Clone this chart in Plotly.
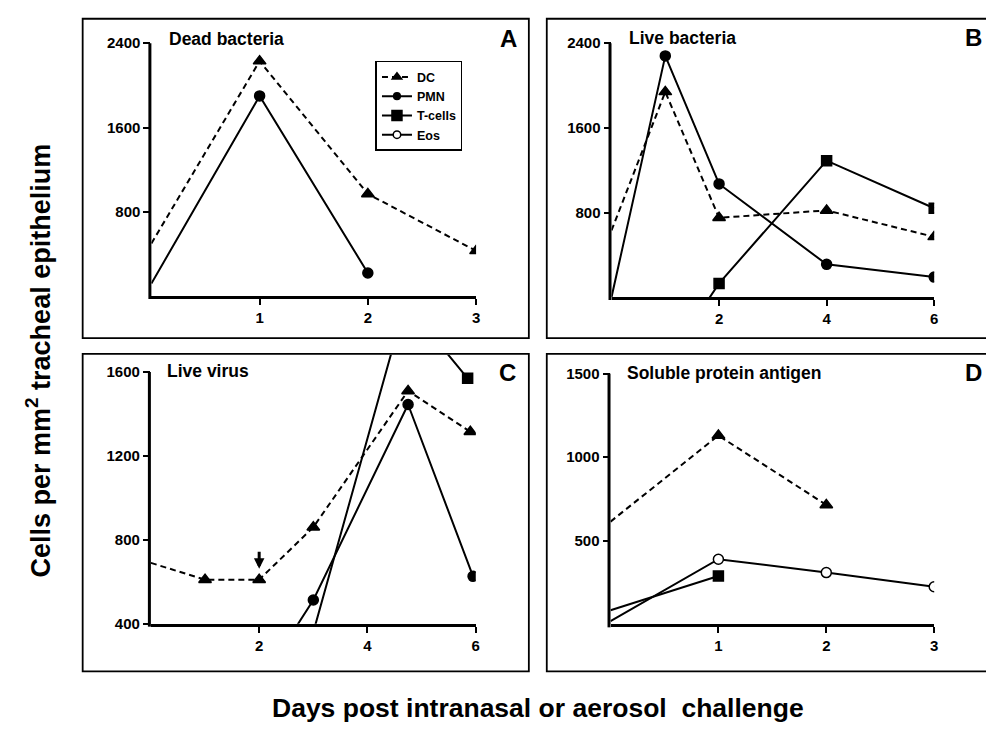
import plotly.graph_objects as go

# ---------------- data ----------------
A_days = [0, 1, 2, 3]
A_DC = [500, 2230, 970, 430]
A_PMN_days = [0, 1, 2]
A_PMN = [120, 1900, 220]

B_days = [0, 1, 2, 4, 6]
B_DC = [630, 1940, 750, 820, 570]
B_PMN = [0, 2280, 1070, 310, 190]
B_T_days = [1, 2, 4, 6]
B_T = [-630, 130, 1290, 840]

C_DC_days = [0, 1, 2, 3, 4.75, 5.9]
C_DC = [690, 610, 610, 860, 1510, 1315]
C_PMN_days = [2, 3, 4.75, 5.95]
C_PMN = [110, 513, 1445, 626]
C_T_days = [3, 4.7, 5.85]
C_T = [360, 1930, 1570]

D_DC_days = [0, 1, 2]
D_DC = [615, 1130, 715]
D_T_days = [0, 1]
D_T = [85, 290]
D_Eos_days = [0, 1, 2, 3]
D_Eos = [20, 390, 310, 225]

panel_titles = ["Dead bacteria", "Live bacteria", "Live virus", "Soluble protein antigen"]
panel_letters = ["A", "B", "C", "D"]
x_ticks = [[1, 2, 3], [2, 4, 6], [2, 4, 6], [1, 2, 3]]
y_ticks = [[800, 1600, 2400], [800, 1600, 2400], [400, 800, 1200, 1600], [500, 1000, 1500]]
x_ranges = [[0, 3], [0, 6], [0, 6], [0, 3]]
y_ranges = [[0, 2400], [0, 2400], [400, 1682], [0, 1500]]

# ---------------- layout geometry (pixels) ----------------
W, H = 986, 734
def px(x):
    return x / W
def py(y):
    return 1 - y / H

geo = [
    dict(x=(152, 478), y=(294, 35)),
    dict(x=(614, 938), y=(295, 35)),
    dict(x=(151.5, 477.7), y=(629.3, 354)),
    dict(x=(613, 938), y=(630, 373.3)),
]
boxes = [(83, 10, 531, 337), (549, 10, 1010, 337), (83, 353, 531, 678), (549, 353, 1010, 678)]
title_pos = [(168, 31), (630, 30), (166, 371), (628, 373)]
letter_pos = [(511, 30), (977, 29), (510, 372), (977, 372)]

FONT = "Liberation Sans, Arial, Helvetica, sans-serif"
fig = go.Figure()

def add(days, vals, name, ax, dashed=False, symbol="circle", fill="black", show=False, size=10):
    sizes = [0 if d == 0 else size for d in days]
    fig.add_trace(go.Scatter(
        x=days, y=vals, name=name, mode="lines+markers",
        xaxis="x" + ("" if ax == 1 else str(ax)), yaxis="y" + ("" if ax == 1 else str(ax)),
        line=dict(color="black", width=2, dash="6px,4px" if dashed else "solid"),
        marker=dict(symbol=symbol, size=sizes, color=fill, opacity=1,
                    line=dict(color="black", width=1.5)),
        showlegend=show, legendrank={"DC": 1, "PMN": 2, "T-cells": 3, "Eos": 4}[name],
        hoverinfo="skip",
    ))

TRI = "triangle-up"
SQ = "square"
add(A_days, A_DC, "DC", 1, dashed=True, symbol=TRI, show=True, size=11)
add(A_PMN_days, A_PMN, "PMN", 1, show=True)
add(B_days, B_DC, "DC", 2, dashed=True, symbol=TRI, size=11)
add(B_days, B_PMN, "PMN", 2)
add(B_T_days, B_T, "T-cells", 2, symbol=SQ, show=True)
add(C_DC_days, C_DC, "DC", 3, dashed=True, symbol=TRI, size=11)
add(C_PMN_days, C_PMN, "PMN", 3)
add(C_T_days, C_T, "T-cells", 3, symbol=SQ)
add(D_DC_days, D_DC, "DC", 4, dashed=True, symbol=TRI, size=11)
add(D_T_days, D_T, "T-cells", 4, symbol=SQ)
add(D_Eos_days, D_Eos, "Eos", 4, fill="white", show=True)

layout = dict(
    width=W, height=H, margin=dict(l=0, r=0, t=0, b=0),
    paper_bgcolor="white", plot_bgcolor="white",
    font=dict(family=FONT, color="black"),
    legend=dict(x=px(377), y=py(53), xanchor="left", yanchor="top",
                bordercolor="black", borderwidth=1.5, bgcolor="white",
                font=dict(size=12.5, family=FONT, weight="bold"),
                tracegroupgap=0, itemwidth=30),
)
shapes = []
annotations = []
for i in range(4):
    g = geo[i]
    sfx = "" if i == 0 else str(i + 1)
    layout["xaxis" + sfx] = dict(
        domain=[px(g["x"][0]), px(g["x"][1])], range=x_ranges[i],
        anchor="y" + sfx, showgrid=False, zeroline=False,
        showline=True, linewidth=3, linecolor="black",
        ticks="outside", ticklen=6, tickwidth=2, tickcolor="black",
        tickvals=x_ticks[i], ticktext=[str(v) for v in x_ticks[i]],
        tickfont=dict(size=15, family=FONT, weight="bold"),
    )
    layout["yaxis" + sfx] = dict(
        domain=[py(g["y"][0]), py(g["y"][1])], range=y_ranges[i],
        anchor="x" + sfx, showgrid=False, zeroline=False, showline=False,
        ticks="outside", ticklen=7, tickwidth=2, tickcolor="black",
        tickvals=y_ticks[i], ticktext=[str(v) for v in y_ticks[i]],
        tickfont=dict(size=15, family=FONT, weight="bold"),
    )
    y0p, y1p = py(g["y"][0]), py(g["y"][1])
    r0, r1 = y_ranges[i]
    top_val = y_ticks[i][-1]
    top_p = y0p + (top_val - r0) / (r1 - r0) * (y1p - y0p)
    xl = px(g["x"][0] - 1.5)
    shapes.append(dict(type="line", xref="paper", yref="paper", x0=xl, x1=xl,
                       y0=y0p - 3 / H, y1=top_p, line=dict(color="black", width=3)))
    bx0, by0, bx1, by1 = boxes[i]
    shapes.append(dict(type="rect", xref="paper", yref="paper", x0=px(bx0), x1=px(bx1),
                       y0=py(by1), y1=py(by0), line=dict(color="black", width=1.8)))
    tx, ty = title_pos[i]
    annotations.append(dict(text=panel_titles[i], xref="paper", yref="paper", x=px(tx), y=py(ty),
                            xanchor="left", yanchor="middle", showarrow=False,
                            font=dict(size=17.5, family=FONT, weight="bold")))
    lx, ly = letter_pos[i]
    annotations.append(dict(text=panel_letters[i], xref="paper", yref="paper", x=px(lx), y=py(ly),
                            xanchor="center", yanchor="middle", showarrow=False,
                            font=dict(size=24, family=FONT, weight="bold")))

annotations.append(dict(x=2, y=662, ax=2, ay=750, xref="x3", yref="y3", axref="x3", ayref="y3",
                        text="", showarrow=True, arrowhead=2, arrowwidth=3, arrowsize=0.7,
                        arrowcolor="black"))
annotations.append(dict(text="Cells per mm<sup>2</sup> tracheal epithelium", xref="paper", yref="paper",
                        x=px(38), y=py(360), textangle=-90, showarrow=False,
                        xanchor="center", yanchor="middle",
                        font=dict(size=27, family=FONT, weight="bold")))
annotations.append(dict(text="Days post intranasal or aerosol\u00a0 challenge", xref="paper", yref="paper",
                        x=px(540), y=py(716), showarrow=False, xanchor="center", yanchor="middle",
                        font=dict(size=26.5, family=FONT, weight="bold")))

layout["shapes"] = shapes
layout["annotations"] = annotations
fig.update_layout(**layout)
fig.write_html("out.html", config={"displayModeBar": False},
               post_script="document.body.style.margin='0px';document.body.style.overflow='hidden';")
